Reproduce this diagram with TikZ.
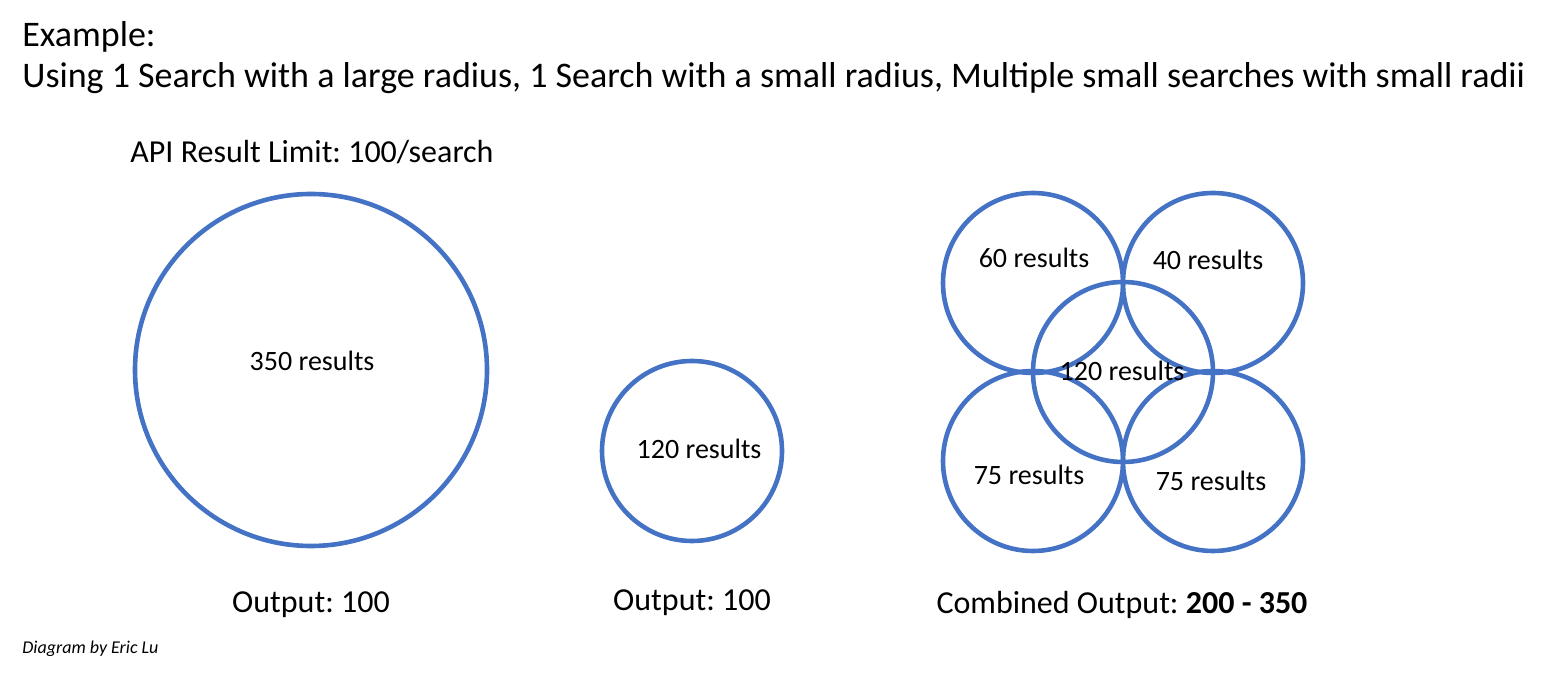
\documentclass[tikz,border=0pt]{standalone}
\usepackage{fontspec}
\setmainfont{Carlito}
\definecolor{searchblue}{HTML}{4472C4}
\frenchspacing
\begin{document}
\begin{tikzpicture}[x=0.5pt,y=-0.5pt,
    search/.style={draw=searchblue,line width=2.3pt},
    count/.style={inner sep=0pt,font=\fontsize{14}{17}\selectfont},
    output/.style={inner sep=0pt,font=\fontsize{16}{19}\selectfont},
    heading/.style={anchor=west,inner sep=0pt,font=\fontsize{18}{22}\selectfont}]
      \useasboundingbox (0,0) rectangle (1548,694);
      \node[heading] (example) at (22,37) {Example:};
      \node[heading] (using) at (22,78) {Using 1 Search with a large radius, 1 Search with a small radius, Multiple small searches with small radii};
      \node[output,anchor=west] (limit) at (130,152) {API Result Limit: 100/search};
      \draw[search] (311,370) circle[radius=176];
      \draw[search] (692,451) circle[radius=90];
      \draw[search] (1033,283) circle[radius=90];
      \draw[search] (1213,283) circle[radius=90];
      \draw[search] (1123,372) circle[radius=90];
      \draw[search] (1033,461) circle[radius=90];
      \draw[search] (1213,461) circle[radius=90];
      \node[count] (large) at (312,361) {350 results};
      \node[count] (small) at (699,449) {120 results};
      \node[count] (topleft) at (1034,258) {60 results};
      \node[count] (topright) at (1208,260) {40 results};
      \node[count] (middle) at (1122,371) {120 results};
      \node[count] (bottomleft) at (1029,475) {75 results};
      \node[count] (bottomright) at (1211,481) {75 results};
      \node[output] (largeout) at (311,605) {Output: 100};
      \node[output] (smallout) at (692,603) {Output: 100};
      \node[output] (combined) at (1122,605) {Combined Output: \textbf{200 - 350}};
      \node[anchor=west,inner sep=0pt,font=\fontsize{9}{11}\selectfont\itshape] (credit) at (22,649) {Diagram by Eric Lu};
    \end{tikzpicture}
\end{document}
